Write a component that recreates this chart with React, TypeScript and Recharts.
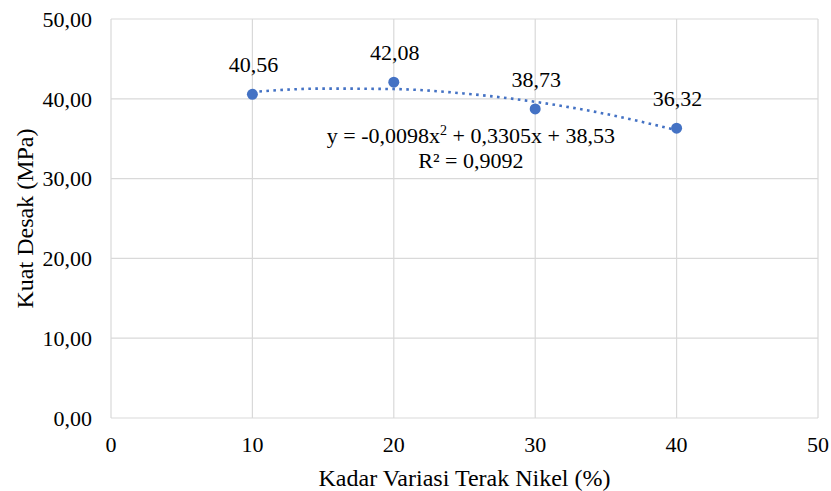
import React from 'react';
import {
  ComposedChart,
  Scatter,
  Line,
  XAxis,
  YAxis,
  CartesianGrid,
  LabelList,
  ReferenceDot,
} from 'recharts';

// Measured points (Kadar Variasi Terak Nikel %, Kuat Desak MPa)
const xValues = [10, 20, 30, 40];
const strengthValues = [40.56, 42.08, 38.73, 36.32];

// Polynomial trendline
const trendX = [10, 15, 20, 25, 30, 35, 40];
const trendY = [40.86, 41.28, 41.22, 40.66, 39.62, 38.1, 36.07];

const xTicks = [0, 10, 20, 30, 40, 50];
const yTicks = [0, 10, 20, 30, 40, 50];

const equationText = 'y = -0,0098x';
const equationRest = ' + 0,3305x + 38,53';
const r2Text = 'R² = 0,9092';
const equationAnchor = { x: 25.45, y: 34.4 };

const xTitle = 'Kadar Variasi Terak Nikel (%)';
const yTitle = 'Kuat Desak (MPa)';

const points = xValues.map((x, i) => ({ x, y: strengthValues[i] }));
const trend = trendX.map((x, i) => ({ x, y: trendY[i] }));

const BLUE = '#4472C4';
const GRID = '#d9d9d9';
const FONT = '"Liberation Serif", "Times New Roman", serif';

const fmt = (v: number) => v.toFixed(2).replace('.', ',');

const MarkerShape = (props: any) => (
  <circle cx={props.cx} cy={props.cy} r={5.5} fill={BLUE} />
);

const PointLabel = (props: any) => {
  const vb = props.viewBox || props;
  const cx = (vb.x ?? 0) + (vb.width ?? 0) / 2;
  const cy = (vb.y ?? 0) + (vb.height ?? 0) / 2;
  return (
    <text
      x={cx + 1}
      y={cy - 22}
      textAnchor="middle"
      fontFamily={FONT}
      fontSize={22}
      fill="#000"
    >
      {fmt(Number(props.value))}
    </text>
  );
};

const EquationLabel = (props: any) => {
  const vb = props.viewBox || {};
  const cx = (vb.x ?? 0) + (vb.width ?? 0) / 2;
  const cy = (vb.y ?? 0) + (vb.height ?? 0) / 2;
  return (
    <g fontFamily={FONT} fill="#000">
      <text x={cx} y={cy} textAnchor="middle" fontSize={22}>
        {equationText}
        <tspan dy={-8} fontSize={14}>2</tspan>
        <tspan dy={8} fontSize={22}>{equationRest}</tspan>
      </text>
      <text x={cx} y={cy + 25} textAnchor="middle" fontSize={22}>
        {r2Text}
      </text>
    </g>
  );
};

const XTitle = (props: any) => {
  const vb = props.viewBox || {};
  const cx = vb.x + vb.width / 2;
  return (
    <text x={cx} y={486} textAnchor="middle" fontFamily={FONT} fontSize={24} fill="#000">
      {xTitle}
    </text>
  );
};

const YTitle = (props: any) => {
  const vb = props.viewBox || {};
  const cy = vb.y + vb.height / 2;
  const bx = 33;
  return (
    <text
      x={bx}
      y={cy}
      transform={`rotate(-90, ${bx}, ${cy})`}
      textAnchor="middle"
      fontFamily={FONT}
      fontSize={24}
      fill="#000"
    >
      {yTitle}
    </text>
  );
};

export default function App() {
  return (
    <div style={{ position: 'absolute', left: 0, top: 0, width: 831, height: 491, background: '#fff' }}>
      <ComposedChart
        width={831}
        height={491}
        margin={{ top: 19, right: 13, bottom: 0, left: 0 }}
      >
        <CartesianGrid stroke={GRID} strokeWidth={1.2} />
        <XAxis
          dataKey="x"
          type="number"
          domain={[0, 50]}
          ticks={xTicks}
          interval={0}
          height={73}
          axisLine={false}
          tickLine={false}
          tickSize={0}
          tickMargin={18}
          tick={{ fontFamily: FONT, fontSize: 22, fill: '#000' }}
          label={<XTitle />}
          allowDataOverflow
        />
        <YAxis
          dataKey="y"
          type="number"
          domain={[0, 50]}
          ticks={yTicks}
          interval={0}
          width={111}
          axisLine={false}
          tickLine={false}
          tickSize={0}
          tickMargin={19}
          tickFormatter={(v: number) => fmt(v)}
          tick={{ fontFamily: FONT, fontSize: 22, fill: '#000' }}
          label={<YTitle />}
          allowDataOverflow
        />
        <Line
          data={trend}
          dataKey="y"
          type="monotone"
          stroke={BLUE}
          strokeWidth={2.6}
          strokeDasharray="2.6 4.4"
          dot={false}
          activeDot={false}
          isAnimationActive={false}
        />
        <Scatter
          data={points}
          dataKey="y"
          shape={<MarkerShape />}
          isAnimationActive={false}
        >
          <LabelList dataKey="y" content={<PointLabel />} />
        </Scatter>
        <ReferenceDot
          x={equationAnchor.x}
          y={equationAnchor.y}
          r={1}
          fill="none"
          stroke="none"
          label={<EquationLabel />}
        />
      </ComposedChart>
    </div>
  );
}
